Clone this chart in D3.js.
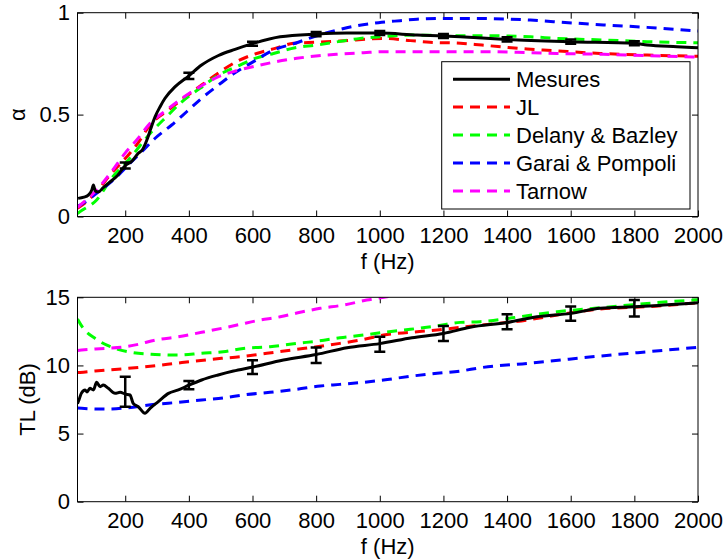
<!DOCTYPE html>
<html>
<head>
<meta charset="utf-8">
<script src="https://cdn.jsdelivr.net/npm/d3@7"></script>
<style>
  html, body { margin: 0; padding: 0; background: #fff; }
  text { font-family: "Liberation Sans", Arial, Helvetica, sans-serif; }
</style>
</head>
<body>
<svg id="chart" width="725" height="560"></svg>
<script>
// ---------- DATA ----------
const seriesNames = ["Mesures", "JL", "Delany & Bazley", "Garai & Pompoli", "Tarnow"];
const seriesColors = ["#000000", "#ff0000", "#00ff00", "#0000ff", "#ff00ff"];
const xTicks = [200, 400, 600, 800, 1000, 1200, 1400, 1600, 1800, 2000];
const alphaTicks = [0, 0.5, 1];
const tlTicks = [0, 5, 10, 15];

// Absorption coefficient (top)
const aMesF = [52,70,84,95,100,106,115,130,147,175,200,220,241,255,268,280,294,310,325,357,400,440,493,545,600,687,800,896,1000,1117,1200,1253,1400,1600,1800,1840,1934,2000];
const aMesV = [0.089,0.095,0.105,0.13,0.155,0.125,0.12,0.14,0.163,0.2,0.25,0.27,0.31,0.33,0.375,0.43,0.49,0.54,0.58,0.637,0.69,0.743,0.79,0.82,0.848,0.882,0.895,0.9,0.9,0.89,0.886,0.882,0.869,0.858,0.85,0.841,0.833,0.828];
const aErrF = [200,400,600,800,1000,1200,1400,1600,1800];
const aErrV = [0.25,0.69,0.848,0.895,0.9,0.886,0.869,0.858,0.85];
const aErrE = [0.015,0.015,0.01,0.01,0.01,0.01,0.01,0.01,0.01];

const aJlF = [50,80,110,157,205,240,278,336,388,440,498,550,613,671,729,802,875,1012,1096,1158,1253,1321,1463,1545,1693,1840,2000];
const aJlV = [0.04,0.075,0.122,0.212,0.293,0.36,0.449,0.523,0.585,0.645,0.71,0.76,0.80,0.825,0.85,0.855,0.861,0.874,0.863,0.855,0.85,0.841,0.822,0.814,0.80,0.792,0.786];
const aDbF = [50,58,110,157,210,283,330,378,435,493,550,608,666,734,802,870,938,1001,1100,1263,1331,1473,1557,1703,1840,2000];
const aDbV = [0.015,0.024,0.081,0.187,0.277,0.416,0.49,0.563,0.629,0.694,0.735,0.776,0.80,0.828,0.841,0.858,0.874,0.882,0.89,0.887,0.887,0.882,0.874,0.866,0.858,0.852];
const aGpF = [50,58,110,168,215,252,294,346,393,440,493,540,603,666,734,792,860,928,996,1064,1117,1190,1263,1337,1473,1546,1703,1840,2000];
const aGpV = [0.05,0.056,0.114,0.187,0.261,0.318,0.384,0.449,0.514,0.58,0.645,0.70,0.76,0.817,0.85,0.882,0.912,0.936,0.951,0.961,0.968,0.972,0.972,0.971,0.964,0.956,0.94,0.928,0.91];
const aTaF = [50,110,157,199,236,278,330,383,435,493,550,624,676,739,807,875,949,1022,1263,1337,1473,1557,1703,1840,2000];
const aTaV = [0.045,0.13,0.22,0.31,0.375,0.457,0.523,0.585,0.637,0.686,0.715,0.743,0.76,0.776,0.789,0.797,0.804,0.809,0.809,0.809,0.804,0.80,0.796,0.789,0.782];

// Transmission loss (bottom)
const tMesF = [50,55,62,74,80,89,100,110,121,131,147,168,184,200,215,225,241,262,278,304,336,367,400,440,492,540,600,697,800,897,1000,1101,1200,1284,1400,1494,1600,1693,1800,1892,2000];
const tMesV = [7.2,7.5,7.95,8.2,8.05,8.32,8.2,8.76,8.44,8.56,8.32,7.95,8.03,7.9,7.83,7.22,6.97,6.49,6.85,7.34,7.95,8.2,8.55,8.93,9.3,9.59,9.88,10.4,10.8,11.3,11.6,12.03,12.35,12.8,13.15,13.57,13.82,14.19,14.3,14.43,14.6];
const tErrF = [200,400,600,800,1000,1200,1400,1600,1800];
const tErrV = [8.07,8.55,9.88,10.75,11.55,12.35,13.2,13.8,14.2];
const tErrE = [1.1,0.3,0.5,0.57,0.55,0.55,0.55,0.52,0.6];

const tJlF = [50,58,105,210,294,356,430,503,561,645,739,802,875,949,1012,1096,1180,1253,1316,1463,1557,1693,1840,2000];
const tJlV = [9.48,9.49,9.59,9.79,9.98,10.15,10.35,10.52,10.64,10.89,11.18,11.37,11.62,11.91,12.23,12.43,12.6,12.8,12.96,13.33,13.7,14.14,14.31,14.6];
const tDbF = [50,68,105,168,220,294,367,440,508,571,655,739,807,875,949,1012,1096,1180,1253,1316,1463,1557,1693,1840,2000];
const tDbV = [13.4,12.72,11.99,11.25,10.96,10.81,10.76,10.89,11.0,11.25,11.37,11.62,11.79,12.03,12.23,12.43,12.65,12.91,13.16,13.21,13.65,13.94,14.23,14.55,14.82];
const tGpF = [50,63,136,210,294,367,440,514,571,655,739,813,875,949,1012,1101,1180,1253,1316,1463,1536,1693,1840,2000];
const tGpV = [6.87,6.85,6.8,6.9,7.15,7.29,7.46,7.63,7.83,8.03,8.25,8.49,8.61,8.76,8.93,9.22,9.42,9.59,9.83,10.15,10.32,10.69,11.0,11.33];
const tTaF = [50,63,136,199,241,294,367,440,503,561,613,687,750,813,886,959,1022,1100];
const tTaV = [11.1,11.13,11.25,11.37,11.55,11.86,12.1,12.43,12.72,13.01,13.28,13.57,13.9,14.19,14.43,14.8,15.04,15.35];

// ---------- DRAWING ----------
const svg = d3.select("#chart");
svg.append("rect").attr("width", 725).attr("height", 560).attr("fill", "#fff");

const X0 = 77.5, X1 = 698;
const FS = 22;
const x = d3.scaleLinear().domain([50, 2000]).range([X0, X1]);

const panels = [
  { top: 12.7, bottom: 216.5, domain: [0, 1], ticks: alphaTicks, fmt: d => d === 0.5 ? "0.5" : String(d), label: "α", labelX: 25,
    series: [[aMesF, aMesV], [aJlF, aJlV], [aDbF, aDbV], [aGpF, aGpV], [aTaF, aTaV]],
    err: [aErrF, aErrV, aErrE], legend: true },
  { top: 297.3, bottom: 501.7, domain: [0, 15], ticks: tlTicks, fmt: d => String(d), label: "TL (dB)", labelX: 35,
    series: [[tMesF, tMesV], [tJlF, tJlV], [tDbF, tDbV], [tGpF, tGpV], [tTaF, tTaV]],
    err: [tErrF, tErrV, tErrE], legend: false }
];

panels.forEach((p, pi) => {
  const y = d3.scaleLinear().domain(p.domain).range([p.bottom, p.top]);
  const clipId = "clip" + pi;
  svg.append("clipPath").attr("id", clipId)
    .append("rect").attr("x", X0).attr("y", p.top).attr("width", X1 - X0).attr("height", p.bottom - p.top);

  const g = svg.append("g");

  // axes (ticks inside)
  const axB = g.append("g").attr("transform", `translate(0,${p.bottom})`)
    .call(d3.axisBottom(x).tickValues(xTicks).tickSize(-6).tickPadding(11).tickFormat(d3.format("d")));
  const axT = g.append("g").attr("transform", `translate(0,${p.top})`)
    .call(d3.axisTop(x).tickValues(xTicks).tickSize(-6).tickFormat(""));
  const axL = g.append("g").attr("transform", `translate(${X0},0)`)
    .call(d3.axisLeft(y).tickValues(p.ticks).tickSize(-6).tickPadding(7.5).tickFormat(p.fmt));
  const axR = g.append("g").attr("transform", `translate(${X1},0)`)
    .call(d3.axisRight(y).tickValues(p.ticks).tickSize(-6).tickFormat(""));
  [axB, axT, axL, axR].forEach(a => {
    a.select(".domain").remove();
    a.selectAll("line").attr("stroke", "#000").attr("stroke-width", 1);
    a.selectAll("text").attr("font-size", FS).attr("fill", "#000")
      .attr("font-family", '"Liberation Sans", Arial, Helvetica, sans-serif');
  });

  // data lines
  const plot = g.append("g").attr("clip-path", `url(#${clipId})`);
  const line = d3.line().x(d => x(d[0])).y(d => y(d[1])).curve(d3.curveMonotoneX);
  // draw models first, measurements on top
  [1, 2, 3, 4, 0].forEach(si => {
    const [fs, vs] = p.series[si];
    const pts = fs.map((f, i) => [f, vs[i]]);
    plot.append("path").datum(pts)
      .attr("d", line)
      .attr("fill", "none")
      .attr("stroke", seriesColors[si])
      .attr("stroke-width", 3)
      .attr("stroke-dasharray", si === 0 ? null : "10,7")
      .attr("stroke-linejoin", "round");
  });

  // error bars
  const [ef, ev, ee] = p.err;
  const eb = plot.append("g").attr("stroke", "#000").attr("stroke-width", 2.5);
  ef.forEach((f, i) => {
    const cx = x(f), y1 = y(ev[i] - ee[i]), y2 = y(ev[i] + ee[i]);
    eb.append("line").attr("x1", cx).attr("x2", cx).attr("y1", y1).attr("y2", y2);
    eb.append("line").attr("x1", cx - 5.5).attr("x2", cx + 5.5).attr("y1", y1).attr("y2", y1);
    eb.append("line").attr("x1", cx - 5.5).attr("x2", cx + 5.5).attr("y1", y2).attr("y2", y2);
  });

  // box
  g.append("rect").attr("x", X0).attr("y", p.top).attr("width", X1 - X0).attr("height", p.bottom - p.top)
    .attr("fill", "none").attr("stroke", "#000").attr("stroke-width", 1);

  // labels
  g.append("text").attr("x", (X0 + X1) / 2).attr("y", p.bottom + 52)
    .attr("text-anchor", "middle").attr("font-size", FS).text("f (Hz)");
  const cy = (p.top + p.bottom) / 2;
  g.append("text").attr("transform", `translate(${p.labelX},${cy}) rotate(-90)`)
    .attr("text-anchor", "middle").attr("font-size", FS).text(p.label);

  if (p.legend) {
    const lg = g.append("g");
    lg.append("rect").attr("x", 441.7).attr("y", 61.7).attr("width", 690 - 441.7).attr("height", 209 - 61.7)
      .attr("fill", "#fff").attr("stroke", "#000").attr("stroke-width", 1);
    const rowY = [79.3, 107, 135, 163, 191];
    seriesNames.forEach((name, i) => {
      lg.append("line").attr("x1", 453).attr("x2", 510).attr("y1", rowY[i]).attr("y2", rowY[i])
        .attr("stroke", seriesColors[i]).attr("stroke-width", 3)
        .attr("stroke-dasharray", i === 0 ? null : "10,7");
      lg.append("text").attr("x", 516).attr("y", rowY[i]).attr("dy", "0.35em")
        .attr("font-size", FS).text(name);
    });
  }
});
</script>
</body>
</html>
